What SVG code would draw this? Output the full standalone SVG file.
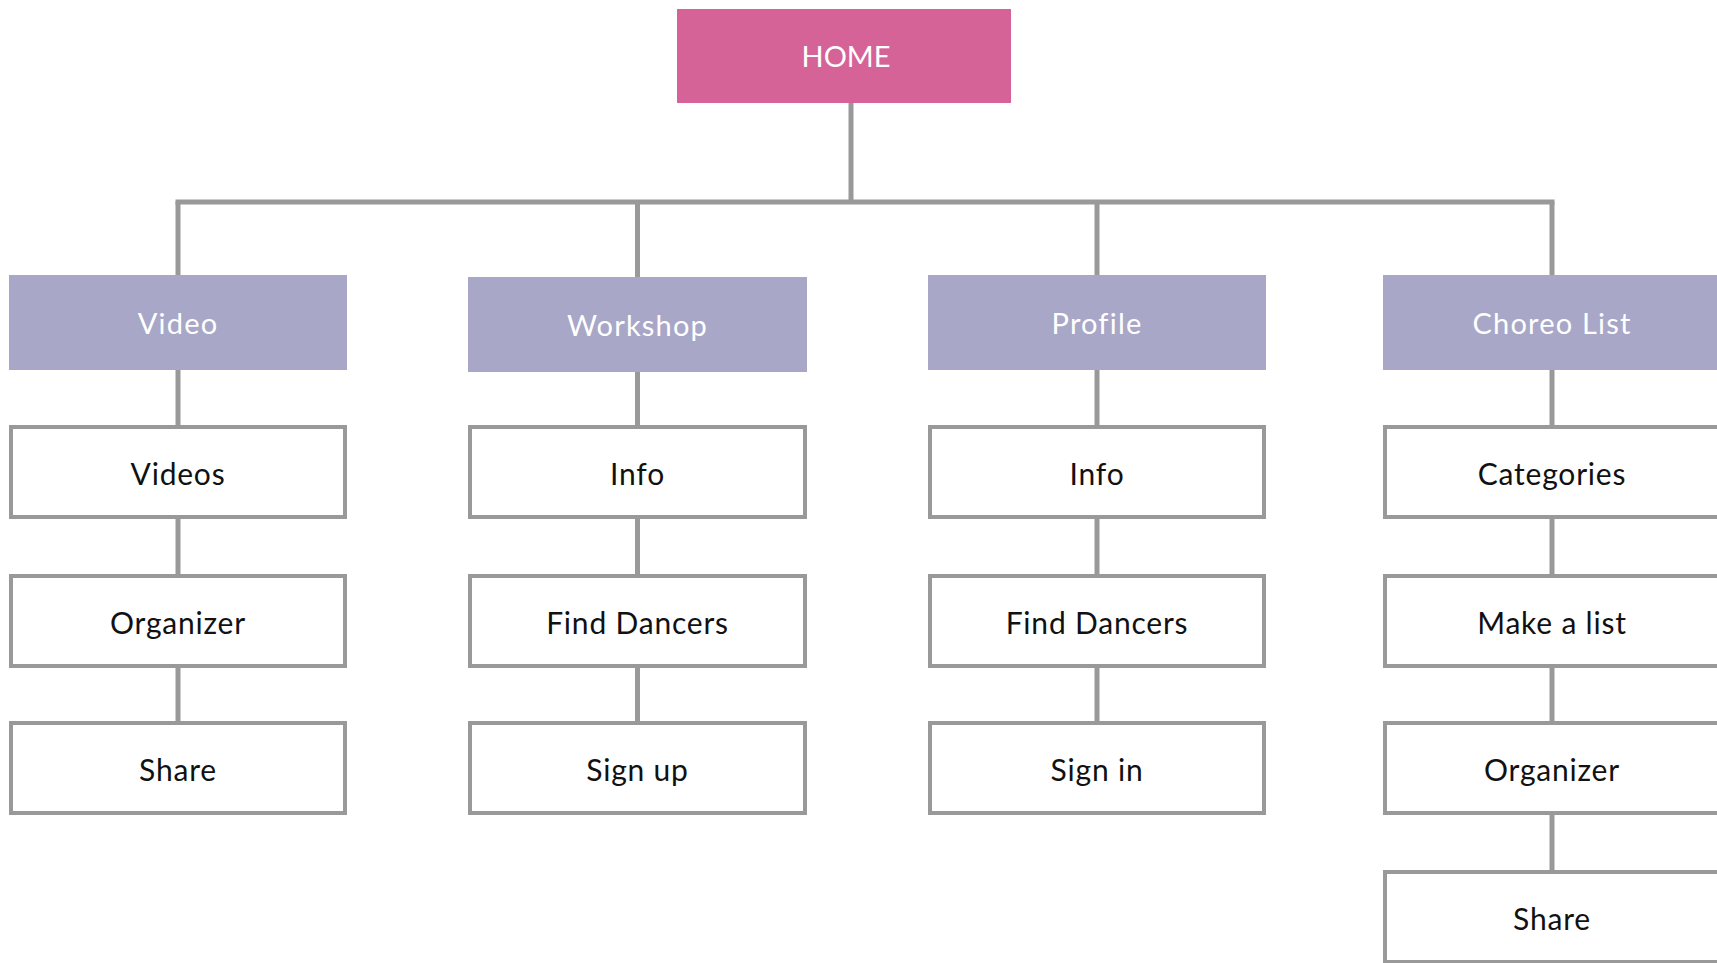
<svg xmlns="http://www.w3.org/2000/svg" width="1717" height="963" viewBox="0 0 1717 963">
<style>
.home{fill:#D56398}
.cat{fill:#A8A7C7}
.item{fill:#FFFFFF;stroke:#999999;stroke-width:4}
.conn{stroke:#999999;stroke-width:5;fill:none}
.lt{font-family:Lato,"Noto Sans",sans-serif;font-size:29px;fill:#FFFFFF;text-anchor:middle;letter-spacing:1.2px}
.ht{letter-spacing:0px}
.dt{font-family:Lato,"Noto Sans",sans-serif;font-size:30px;fill:#111111;text-anchor:middle;letter-spacing:0.8px}
</style>
<rect width="1717" height="963" fill="#FFFFFF"/>
<g id="connectors" class="conn">
<line x1="851" y1="103" x2="851" y2="202"/>
<line x1="175.5" y1="202" x2="1554.5" y2="202"/>
<line x1="178" y1="202" x2="178" y2="275"/>
<line x1="637.5" y1="202" x2="637.5" y2="277"/>
<line x1="1097" y1="202" x2="1097" y2="275"/>
<line x1="1552" y1="202" x2="1552" y2="275"/>
<line x1="178" y1="370" x2="178" y2="721"/>
<line x1="637.5" y1="372" x2="637.5" y2="721"/>
<line x1="1097" y1="370" x2="1097" y2="721"/>
<line x1="1552" y1="370" x2="1552" y2="870"/>
</g>
<g id="home"><rect class="home" x="677" y="9" width="334" height="94"/><text class="lt ht" x="846" y="67">HOME</text></g>
<g id="video"><rect class="cat" x="9" y="275" width="338" height="95"/><text class="lt" x="178" y="334">Video</text></g>
<g id="workshop"><rect class="cat" x="468" y="277" width="339" height="95"/><text class="lt" x="637.5" y="336">Workshop</text></g>
<g id="profile"><rect class="cat" x="928" y="275" width="338" height="95"/><text class="lt" x="1097" y="334">Profile</text></g>
<g id="choreo"><rect class="cat" x="1383" y="275" width="338" height="95"/><text class="lt" x="1552" y="334">Choreo List</text></g>
<g id="video-videos"><rect class="item" x="11" y="427" width="334" height="90"/><text class="dt" x="178" y="485">Videos</text></g>
<g id="video-organizer"><rect class="item" x="11" y="576" width="334" height="90"/><text class="dt" x="178" y="634">Organizer</text></g>
<g id="video-share"><rect class="item" x="11" y="723" width="334" height="90"/><text class="dt" x="178" y="781">Share</text></g>
<g id="workshop-info"><rect class="item" x="470" y="427" width="335" height="90"/><text class="dt" x="637.5" y="485">Info</text></g>
<g id="workshop-find"><rect class="item" x="470" y="576" width="335" height="90"/><text class="dt" x="637.5" y="634">Find Dancers</text></g>
<g id="workshop-signup"><rect class="item" x="470" y="723" width="335" height="90"/><text class="dt" x="637.5" y="781">Sign up</text></g>
<g id="profile-info"><rect class="item" x="930" y="427" width="334" height="90"/><text class="dt" x="1097" y="485">Info</text></g>
<g id="profile-find"><rect class="item" x="930" y="576" width="334" height="90"/><text class="dt" x="1097" y="634">Find Dancers</text></g>
<g id="profile-signin"><rect class="item" x="930" y="723" width="334" height="90"/><text class="dt" x="1097" y="781">Sign in</text></g>
<g id="choreo-categories"><rect class="item" x="1385" y="427" width="334" height="90"/><text class="dt" x="1552" y="485">Categories</text></g>
<g id="choreo-make"><rect class="item" x="1385" y="576" width="334" height="90"/><text class="dt" x="1552" y="634">Make a list</text></g>
<g id="choreo-organizer"><rect class="item" x="1385" y="723" width="334" height="90"/><text class="dt" x="1552" y="781">Organizer</text></g>
<g id="choreo-share"><rect class="item" x="1385" y="872" width="334" height="90"/><text class="dt" x="1552" y="930">Share</text></g>
</svg>
